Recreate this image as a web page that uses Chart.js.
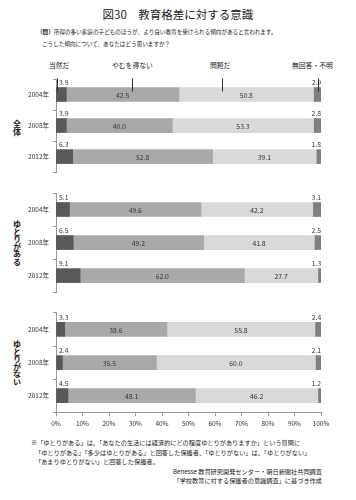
<!DOCTYPE html>
<html><head><meta charset="utf-8">
<script src="https://cdn.jsdelivr.net/npm/chart.js@4"></script>
<style>
html,body{margin:0;padding:0;background:#fff;}
body{width:356px;height:500px;position:relative;overflow:hidden;font-family:"Noto Sans CJK JP","Noto Sans",sans-serif;color:#222;}
.t{position:absolute;white-space:nowrap;line-height:1;}
canvas{position:absolute;left:0;}
.v{position:absolute;font-weight:bold;font-size:8px;line-height:0.95;width:10px;text-align:center;color:#222;}
</style></head><body>
<div class="t" style="left:0;width:356px;text-align:center;top:9px;font-size:11.5px;">図30　教育格差に対する意識</div>
<div class="t" style="left:37px;top:30px;font-size:5.6px;"><b>（問）</b>所得の多い家庭の子どものほうが、より良い教育を受けられる傾向があると言われます。</div>
<div class="t" style="left:42px;top:42px;font-size:5.6px;">こうした傾向について、あなたはどう思いますか？</div>

<div class="t" style="left:49px;top:62px;font-size:6.8px;">当然だ</div>
<div class="t" style="left:112px;top:62px;font-size:6.8px;">やむを得ない</div>
<div class="t" style="left:210px;top:62px;font-size:6.8px;">問題だ</div>
<div class="t" style="left:292px;top:62px;font-size:6.8px;">無回答・不明</div>

<div class="v" style="left:12px;top:120px;">全<br>体</div>
<div class="v" style="left:12px;top:220px;">ゆ<br>と<br>り<br>が<br>あ<br>る</div>
<div class="v" style="left:12px;top:340px;">ゆ<br>と<br>り<br>が<br>な<br>い</div>

<canvas id="c1" width="356" height="125" style="top:55px;"></canvas>
<canvas id="c2" width="356" height="115" style="top:185px;"></canvas>
<canvas id="c3" width="356" height="125" style="top:305px;"></canvas>

<div class="t" style="left:31px;top:440px;font-size:6.2px;">※「ゆとりがある」は、「あなたの生活には経済的にどの程度ゆとりがありますか」という質問に</div>
<div class="t" style="left:35px;top:450px;font-size:6.2px;">「ゆとりがある」「多少はゆとりがある」と回答した保護者、「ゆとりがない」は、「ゆとりがない」</div>
<div class="t" style="left:35px;top:459px;font-size:6.2px;">「あまりゆとりがない」と回答した保護者。</div>
<div class="t" style="right:34px;top:469px;font-size:6.2px;">Benesse 教育研究開発センター・朝日新聞社共同調査</div>
<div class="t" style="right:34px;top:478px;font-size:6.2px;">「学校教育に対する保護者の意識調査」に基づき作成</div>

<script>
const years = ["2004年", "2008年", "2012年"];
const seriesNames = ["当然だ", "やむを得ない", "問題だ", "無回答・不明"];
const xTicks = [0,10,20,30,40,50,60,70,80,90,100];

const allTouzen   = [3.9, 3.9, 6.3];
const allYamu     = [42.5, 40.0, 52.8];
const allMondai   = [50.8, 53.3, 39.1];
const allMukaitou = [2.9, 2.8, 1.8];

const aruTouzen   = [5.1, 6.5, 9.1];
const aruYamu     = [49.6, 49.2, 62.0];
const aruMondai   = [42.2, 41.8, 27.7];
const aruMukaitou = [3.1, 2.5, 1.3];

const naiTouzen   = [3.3, 2.4, 4.5];
const naiYamu     = [38.6, 35.5, 48.1];
const naiMondai   = [55.8, 60.0, 46.2];
const naiMukaitou = [2.4, 2.1, 1.2];

const leaderValues = [0.4, 28.7, 62.6, 98.9];

const colors = ["#595959", "#a9a9a9", "#d9d9d9", "#808080"];
const FONT = '"Noto Sans CJK JP","Noto Sans",sans-serif';

const labelPlugin = {
  id: 'labels',
  afterDatasetsDraw(chart) {
    const ctx = chart.ctx;
    ctx.save();
    ctx.font = '6.8px ' + FONT;
    ctx.fillStyle = '#333';
    chart.data.datasets.forEach((ds, di) => {
      const meta = chart.getDatasetMeta(di);
      meta.data.forEach((bar, i) => {
        const v = ds.data[i];
        const txt = v.toFixed(1);
        const h = bar.height;
        const top = bar.y - h / 2;
        if (di === 1 || di === 2) {
          ctx.textAlign = 'center'; ctx.textBaseline = 'middle';
          ctx.fillText(txt, (bar.base + bar.x) / 2, bar.y + 0.5);
        } else if (di === 0) {
          ctx.textAlign = 'left'; ctx.textBaseline = 'middle';
          ctx.fillText(txt, chart.chartArea.left + 3, top - 5);
        } else {
          ctx.textAlign = 'right'; ctx.textBaseline = 'middle';
          ctx.fillText(txt, bar.x, top - 5);
        }
      });
    });
    ctx.restore();
  }
};

const leaderPlugin = {
  id: 'leaders',
  afterDatasetsDraw(chart, args, opts) {
    if (!opts.on) return;
    const ctx = chart.ctx;
    const xs = chart.scales.x;
    const bar = chart.getDatasetMeta(1).data[0];
    const top = bar.y - bar.height / 2;
    ctx.save();
    ctx.strokeStyle = '#333';
    ctx.lineWidth = 1;
    leaderValues.forEach(v => {
      const x = Math.round(xs.getPixelForValue(v)) + 0.5;
      ctx.beginPath();
      ctx.moveTo(x, top - 9);
      ctx.lineTo(x, top + 4);
      ctx.stroke();
    });
    ctx.restore();
  }
};

function makeChart(id, arrs, pad, showX, leaders) {
  return new Chart(document.getElementById(id), {
    type: 'bar',
    data: {
      labels: years,
      datasets: arrs.map((a, i) => ({
        label: seriesNames[i], data: a, backgroundColor: colors[i],
        borderWidth: 0, barThickness: 14
      }))
    },
    options: {
      indexAxis: 'y',
      responsive: false,
      animation: false,
      layout: { padding: pad },
      plugins: { legend: { display: false }, tooltip: { enabled: false }, leaders: { on: leaders } },
      scales: {
        x: {
          stacked: true, min: 0, max: 100, display: showX,
          afterBuildTicks: s => { s.ticks = xTicks.map(v => ({ value: v })); },
          grid: { drawOnChartArea: false, drawTicks: true, tickLength: 4, color: '#999' },
          border: { display: true, color: '#999' },
          ticks: { callback: v => v + '%', font: { size: 6.5, family: FONT }, color: '#333', maxRotation: 0, padding: 3 }
        },
        y: {
          stacked: true,
          afterFit: s => { s.width = 56; },
          grid: { offset: true, drawOnChartArea: false, tickLength: 3, color: '#999' },
          border: { display: true, color: '#999' },
          ticks: { font: { size: 6.5, family: FONT }, color: '#333', padding: 4 }
        }
      }
    },
    plugins: [labelPlugin, leaderPlugin]
  });
}

makeChart('c1', [allTouzen, allYamu, allMondai, allMukaitou], { top: 24, bottom: 6, right: 35, left: 0 }, false, true);
makeChart('c2', [aruTouzen, aruYamu, aruMondai, aruMukaitou], { top: 8, bottom: 6, right: 35, left: 0 }, false, false);
makeChart('c3', [naiTouzen, naiYamu, naiMondai, naiMukaitou], { top: 7, bottom: 0, right: 35, left: 0 }, true, false);
</script>
</body></html>
